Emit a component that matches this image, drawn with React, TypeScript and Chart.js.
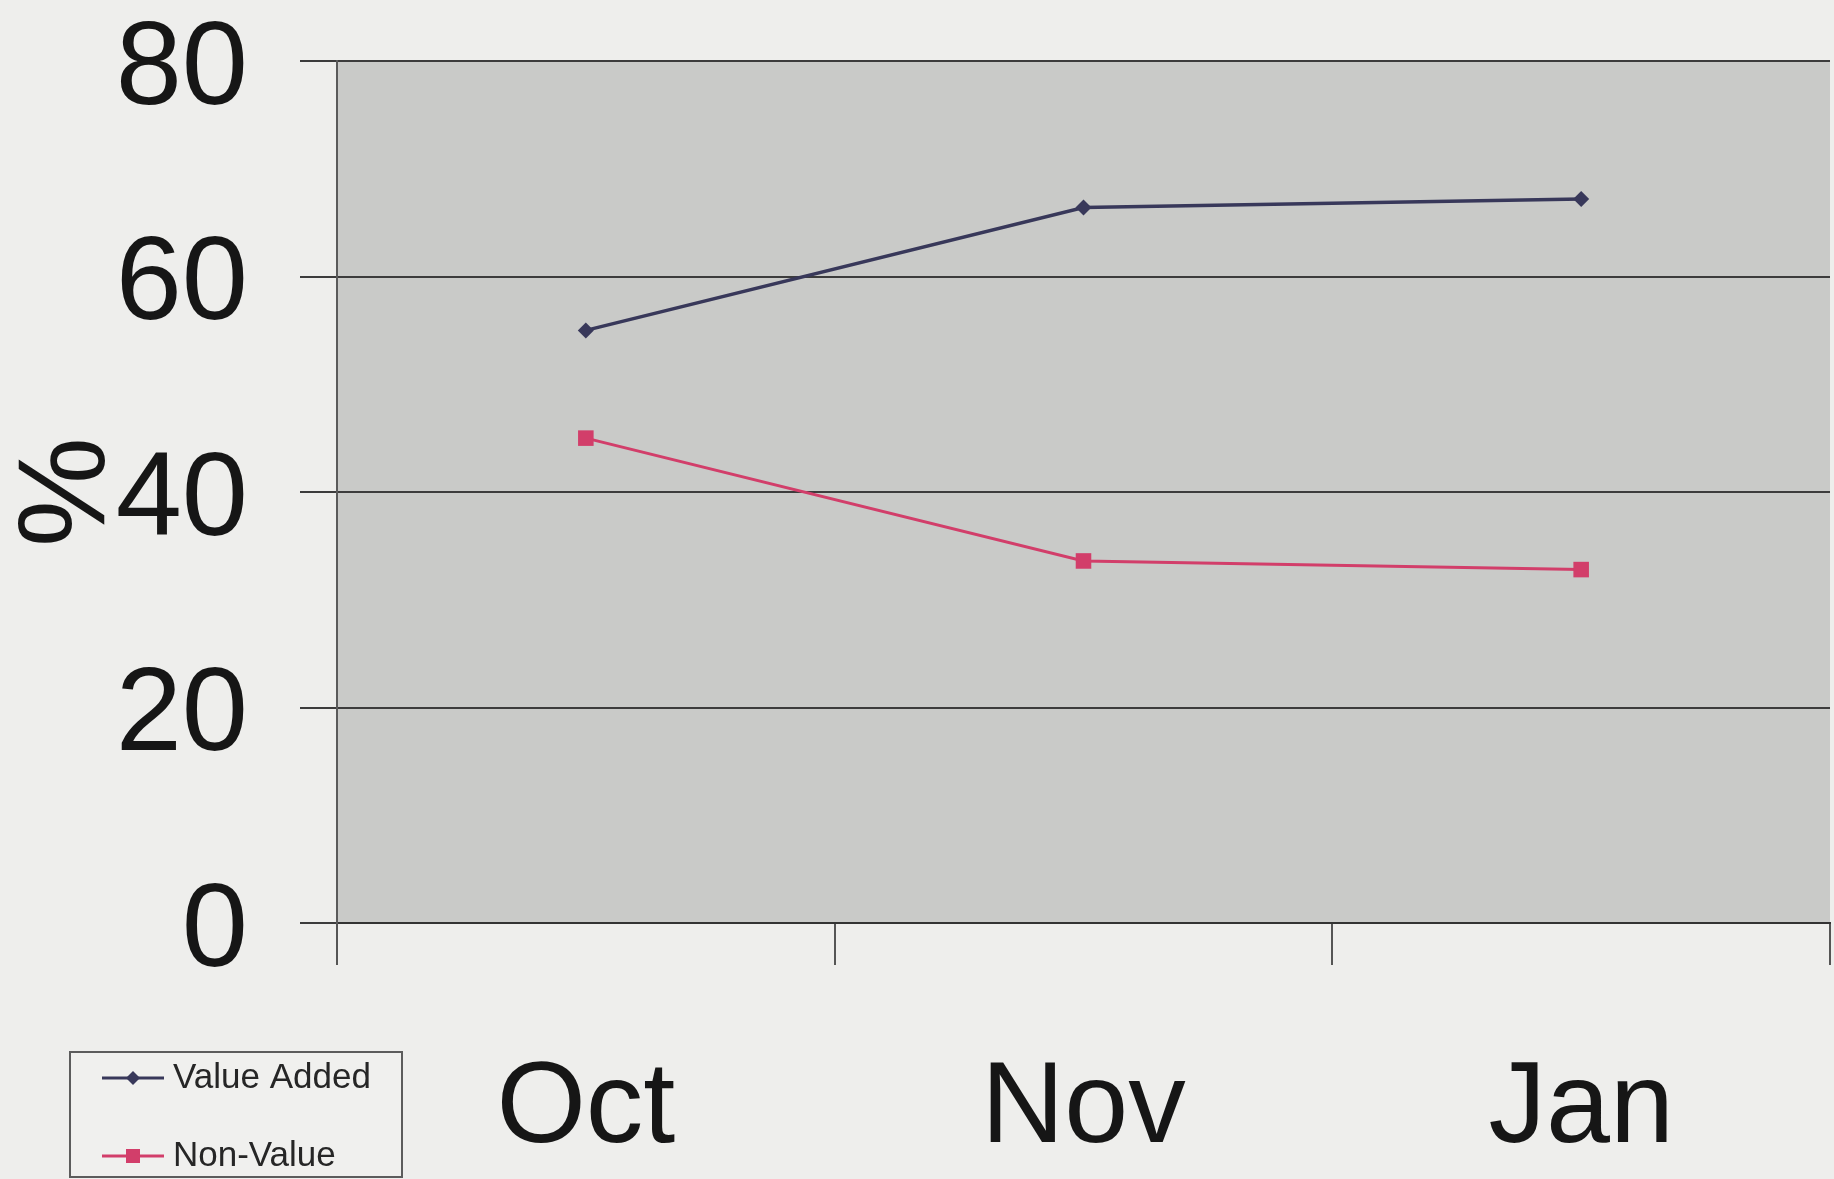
import React, { useEffect, useRef } from "react";
import { Chart, registerables } from "chart.js";

Chart.register(...registerables);

const categories = ["Oct", "Nov", "Jan"];
const valueAdded = [55, 66.4, 67.2];
const nonValue = [45, 33.6, 32.8];
const yTicks = [0, 20, 40, 60, 80];
const seriesLabels = ["Value Added", "Non-Value"];

const PAGE_BG = "#eeeeec";
const PLOT_BG = "#c9cac8";
const VA_COLOR = "#38385a";
const NV_COLOR = "#d23e6a";

const plotBg = {
  id: "plotBg",
  beforeDraw(chart: any) {
    const { ctx, chartArea } = chart;
    ctx.save();
    ctx.fillStyle = PLOT_BG;
    ctx.fillRect(chartArea.left, chartArea.top, chartArea.right - chartArea.left, chartArea.bottom - chartArea.top);
    ctx.restore();
  },
};

const customLegend = {
  id: "customLegend",
  afterDraw(chart: any) {
    const ctx = chart.ctx;
    ctx.save();
    const bx = 70, by = 1052, bw = 332, bh = 125;
    ctx.fillStyle = "#f0f0ee";
    ctx.fillRect(bx, by, bw, bh);
    ctx.strokeStyle = "#5c5c5c";
    ctx.lineWidth = 2;
    ctx.strokeRect(bx, by, bw, bh);
    const rows = [1078, 1156];
    chart.data.datasets.forEach((ds: any, i: number) => {
      const y = rows[i];
      ctx.strokeStyle = ds.borderColor;
      ctx.lineWidth = 3;
      ctx.beginPath();
      ctx.moveTo(102, y);
      ctx.lineTo(164, y);
      ctx.stroke();
      ctx.fillStyle = ds.borderColor;
      const cx = 133;
      if (ds.pointStyle === "rectRot") {
        ctx.beginPath();
        ctx.moveTo(cx - 7, y);
        ctx.lineTo(cx, y - 7);
        ctx.lineTo(cx + 7, y);
        ctx.lineTo(cx, y + 7);
        ctx.closePath();
        ctx.fill();
      } else {
        ctx.fillRect(cx - 7, y - 7, 14, 14);
      }
      ctx.fillStyle = "#262626";
      ctx.font = "35px 'Liberation Sans', Arial, sans-serif";
      ctx.textBaseline = "middle";
      ctx.textAlign = "left";
      ctx.fillText(ds.label, 173, y);
    });
    ctx.restore();
  },
};

export default function App() {
  const ref = useRef<HTMLCanvasElement>(null);
  useEffect(() => {
    if (!ref.current) return;
    const chart = new Chart(ref.current, {
      type: "line",
      data: {
        labels: categories,
        datasets: [
          {
            label: seriesLabels[0],
            data: valueAdded,
            borderColor: VA_COLOR,
            backgroundColor: VA_COLOR,
            borderWidth: 3.5,
            pointStyle: "rectRot",
            pointRadius: 8,
            pointBorderWidth: 0,
            tension: 0,
          },
          {
            label: seriesLabels[1],
            data: nonValue,
            borderColor: NV_COLOR,
            backgroundColor: NV_COLOR,
            borderWidth: 3,
            pointStyle: "rect",
            pointRadius: 11,
            pointBorderWidth: 0,
            tension: 0,
          },
        ],
      },
      options: {
        animation: false,
        responsive: true,
        maintainAspectRatio: false,
        layout: { autoPadding: false, padding: { top: 61, right: 4, bottom: 0, left: 0 } },
        plugins: {
          legend: { display: false },
          tooltip: { enabled: false },
        },
        scales: {
          x: {
            type: "category",
            offset: true,
            grid: {
              offset: true,
              drawOnChartArea: false,
              drawTicks: true,
              tickLength: 42,
              color: "#555555",
              lineWidth: 2,
            },
            border: { display: true, color: "#333333", width: 2 },
            ticks: {
              color: "#161616",
              padding: 76,
              font: { family: "'Liberation Sans', Arial, sans-serif", size: 115 },
            },
            afterFit(scale: any) {
              scale.height = 256;
              scale.paddingLeft = 0;
              scale.paddingRight = 0;
            },
          },
          y: {
            min: 0,
            max: 80,
            afterBuildTicks(scale: any) {
              scale.ticks = yTicks.map((v) => ({ value: v }));
            },
            grid: {
              color: "#3c3c3c",
              lineWidth: 2,
              drawTicks: true,
              tickLength: 37,
            },
            border: { display: true, color: "#5a5a5a", width: 2 },
            ticks: {
              color: "#161616",
              padding: 52,
              labelOffset: 10,
              autoSkip: false,
              font: { family: "'Liberation Sans', Arial, sans-serif", size: 119, lineHeight: 0.1 },
            },
            title: {
              display: true,
              text: "%",
              color: "#161616",
              padding: { top: 8, bottom: 0 },
              font: { family: "'Liberation Sans', Arial, sans-serif", size: 124, lineHeight: 1 },
            },
            afterFit(scale: any) {
              scale.width = 337;
            },
          },
        },
      },
      plugins: [plotBg, customLegend],
    });
    return () => chart.destroy();
  }, []);
  return (
    <div style={{ position: "fixed", left: 0, top: 0, width: 1834, height: 1179, background: PAGE_BG }}>
      <canvas ref={ref} />
    </div>
  );
}
